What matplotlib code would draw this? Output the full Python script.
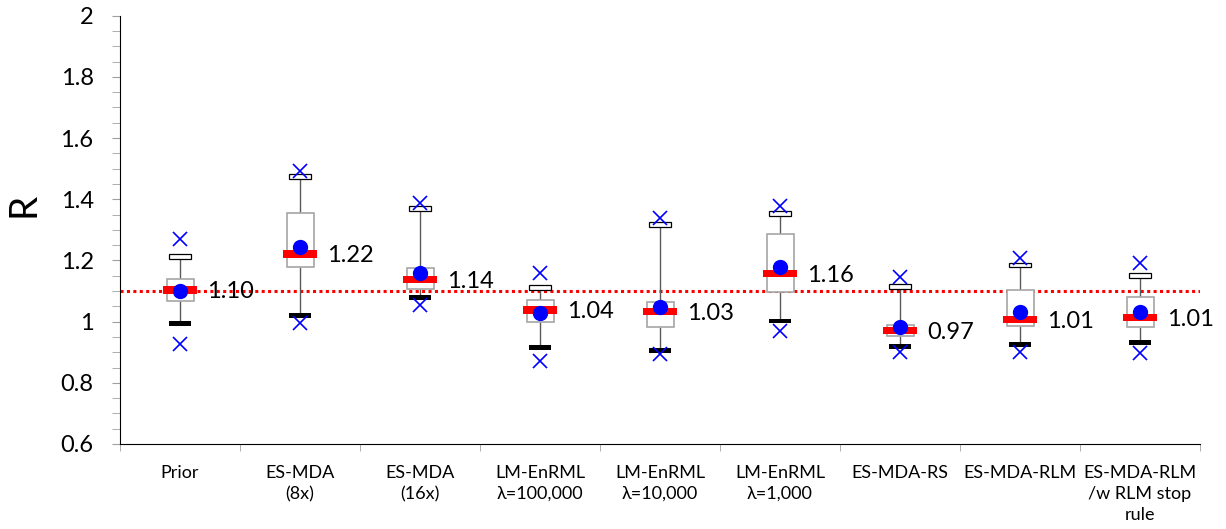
# Box plot of R for each history-matching method
import numpy as np
import matplotlib.pyplot as plt

plt.rcParams['font.family'] = ['Lato', 'DejaVu Sans']

# data
methods = ['Prior', 'ES-MDA\n(8x)', 'ES-MDA\n(16x)', 'LM-EnRML\nλ=100,000',
           'LM-EnRML\nλ=10,000', 'LM-EnRML\nλ=1,000', 'ES-MDA-RS',
           'ES-MDA-RLM', 'ES-MDA-RLM\n/w RLM stop\nrule']
r_max = [1.269, 1.493, 1.388, 1.160, 1.338, 1.378, 1.147, 1.207, 1.190]
r_p95 = [1.212, 1.474, 1.371, 1.111, 1.316, 1.354, 1.116, 1.185, 1.152]
r_q3 = [1.140, 1.354, 1.174, 1.071, 1.065, 1.285, 0.989, 1.103, 1.079]
r_median = [1.103, 1.221, 1.138, 1.038, 1.032, 1.158, 0.970, 1.007, 1.014]
r_mean = [1.100, 1.245, 1.160, 1.029, 1.049, 1.179, 0.981, 1.032, 1.030]
r_q1 = [1.067, 1.177, 1.105, 1.000, 0.981, 1.098, 0.953, 0.986, 0.983]
r_p5 = [0.994, 1.019, 1.078, 0.915, 0.905, 1.002, 0.920, 0.926, 0.931]
r_min = [0.927, 0.994, 1.054, 0.871, 0.894, 0.969, 0.902, 0.902, 0.896]
median_labels = ['1.10', '1.22', '1.14', '1.04', '1.03', '1.16', '0.97', '1.01', '1.01']
r_true = 1.10

x = np.arange(1, len(methods) + 1)
q1 = np.array(r_q1)
q3 = np.array(r_q3)

fig = plt.figure(figsize=(12.26, 5.29), dpi=100)
ax = fig.add_axes([120 / 1226, 85 / 529, 1080 / 1226, 428.4 / 529])

# reference value
ax.axhline(r_true, color='red', lw=2.2, ls=(0, (1, 1.1)), zorder=1)

# whiskers
ax.vlines(x, r_q3, r_p95, color='#595959', lw=1, zorder=2)
ax.vlines(x, r_p5, r_q1, color='#595959', lw=1, zorder=2)

# boxes
ax.bar(x, q3 - q1, bottom=q1, width=0.225, color='white',
       edgecolor='#a6a6a6', lw=1.2, zorder=3)

# p95 cap (white) and p5 bar (black)
cap_h = 0.016
ax.bar(x, cap_h, bottom=np.array(r_p95) - cap_h / 2, width=0.18,
       color='white', edgecolor='black', lw=0.9, zorder=4)
ax.bar(x, cap_h, bottom=np.array(r_p5) - cap_h / 2, width=0.18,
       color='black', lw=0, zorder=4)

# median
med_h = 0.024
ax.bar(x, med_h, bottom=np.array(r_median) - med_h / 2, width=0.28,
       color='red', lw=0, zorder=5)

# mean
ax.plot(x, r_mean, 'o', color='blue', ms=10, zorder=6)

# max/min
ax.plot(x, r_max, 'x', color='blue', ms=10, mew=1.2, zorder=6)
ax.plot(x, r_min, 'x', color='blue', ms=10, mew=1.2, zorder=6)

for xi, m, lab in zip(x, r_median, median_labels):
    ax.text(xi + 0.225, m - 0.006, lab, ha='left', va='center',
            fontsize=17, color='black', zorder=7)

ax.set_xlim(0.5, len(methods) + 0.5)
ax.set_ylim(0.6, 2.0)
ax.set_yticks(np.arange(0.6, 2.01, 0.2))
ax.set_yticks(np.arange(0.6, 2.01, 0.05), minor=True)
ax.set_yticklabels([f'{v:g}' for v in np.arange(0.6, 2.01, 0.2)])
ax.tick_params(axis='y', which='both', direction='out', length=6,
               color='#a0a0a0', labelsize=17, pad=13)

ax.set_xticks(x)
ax.set_xticklabels(methods, fontsize=13, linespacing=1.4, family='Lato')
ax.set_xticks(np.arange(0.5, len(methods) + 1, 1.0), minor=True)
ax.tick_params(axis='x', which='major', length=0, pad=15)
ax.tick_params(axis='x', which='minor', length=5, color='#a0a0a0')

for side in ['top', 'right']:
    ax.spines[side].set_visible(False)
ax.spines['left'].set_color('black')
ax.spines['bottom'].set_color('black')

fig.text(24 / 1226, 1 - 205 / 529, 'R', rotation=90, fontsize=28,
         ha='center', va='center')

plt.savefig('out.png', dpi=100)
